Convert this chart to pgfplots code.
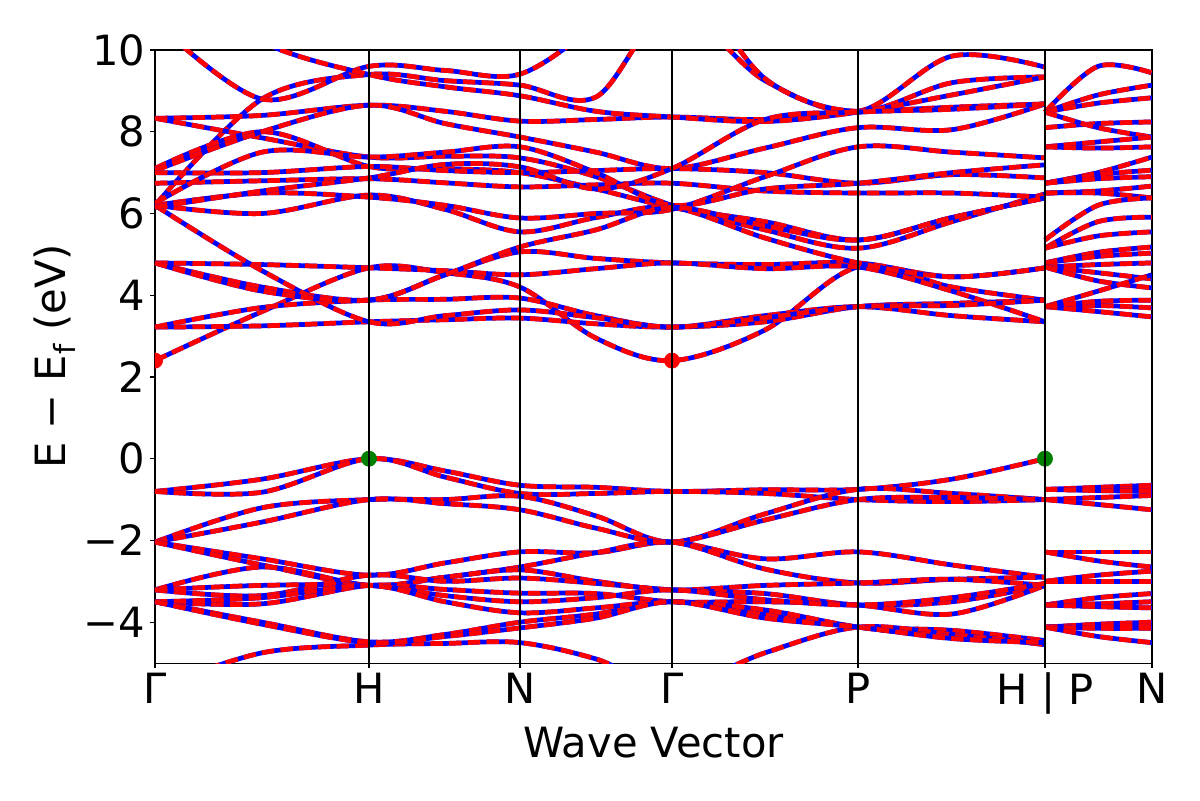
\documentclass[border=0pt]{standalone}
\usepackage{fontspec}
\setmainfont{DejaVu Sans}
\usepackage{pgfplots}
\usepackage{pgfplotstable}
\pgfplotsset{compat=1.18}
\definecolor{mplgreen}{RGB}{0,128,0}
\tikzset{band/.style={draw=blue, line width=3.4pt, smooth, tension=0.55, line join=round,
  postaction={draw=red, line width=3.4pt, dash pattern=on 9pt off 4.5pt}}}

\pgfplotstableread{
x v1 v2 v3 v4 v5 v6 v7 v8 v9 v10 v11 v12 v13 v14 c1 c2 c3 c4 c5 c6 c7 c8 c9 c10 c11 c12 c13 c14 c15 c16 c17 c18 c19 c20
0   -0.8 -0.8 -2.04 -2.04 -2.04 -2.04 -3.21 -3.21 -3.5 -3.5 -3.21 -5.6 -3.5 -3.5   2.4 3.22 3.22 4.79 4.79 6.2 6.2 10.7 8.33 8.33 7.1 7.05 6.74 7.0 6.2 6.2 6.25 12 6.15 4.79
107 -0.5 -0.82 -1.2 -1.55 -2.45 -2.6 -2.65 -3.35 -3.55 -4.0 -3.1 -4.75 -3.4 -4.05   3.6 3.25 3.7 4.2 4.75 4.6 8.8 8.8 8.4 7.85 8.0 8.0 6.8 7.0 6.0 6.5 7.5 10.2 6.55 4.1
214 0 0 -1.0 -1.0 -2.85 -3.1 -3.1 -2.85 -3.1 -4.48 -3.1 -4.56 -3.1 -4.5   4.67 3.35 3.88 3.88 4.67 3.35 9.4 9.6 8.65 7.38 7.15 8.65 6.85 7.15 6.45 6.4 7.38 9.4 6.87 3.88
290 -0.3 -0.45 -1.0 -1.1 -2.55 -2.9 -2.9 -3.0 -3.2 -4.3 -3.35 -4.52 -3.5 -4.35   4.55 3.4 3.9 4.5 4.6 3.5 9.25 9.5 8.5 7.4 7.1 8.2 6.75 7.05 6.1 6.2 7.5 9.1 7.2 4.5
365 -0.65 -0.85 -0.92 -1.25 -2.28 -2.65 -2.72 -2.92 -3.29 -4.0 -3.5 -4.5 -3.77 -4.14   4.2 3.44 3.93 5.06 4.5 3.64 9.14 9.41 8.26 7.36 7.0 7.87 6.65 7.0 5.55 5.89 7.63 8.88 7.14 5.18
441 -0.7 -0.85 -1.4 -1.7 -2.3 -2.3 -3.0 -3.05 -3.3 -3.8 -3.4 -4.9 -3.65 -3.9   2.95 3.3 3.5 4.9 4.65 3.45 8.85 10.6 8.3 6.9 6.6 7.5 6.7 7.05 5.9 6.0 7.0 8.5 6.6 5.6
517 -0.8 -0.8 -2.04 -2.04 -2.04 -2.04 -3.21 -3.21 -3.5 -3.5 -3.21 -5.6 -3.5 -3.5   2.4 3.22 3.22 4.79 4.79 3.22 11 12 8.36 6.2 6.15 7.1 6.74 7.1 6.15 6.1 6.2 8.36 7.1 6.15
610 -0.76 -0.85 -1.35 -1.5 -2.45 -2.7 -3.1 -3.3 -3.5 -3.8 -3.45 -4.75 -3.7 -3.9   3.15 3.35 3.5 4.75 4.65 3.45 9.25 9.3 8.3 5.6 5.8 7.6 6.55 7.0 5.4 6.9 6.6 8.25 8.3 5.7
703 -0.75 -1.0 -0.75 -1.0 -2.28 -3.04 -3.04 -3.58 -3.58 -4.12 -3.58 -4.12 -4.12 -4.12   4.69 3.72 3.72 4.79 4.69 3.72 8.5 8.5 8.48 5.15 5.35 8.1 6.5 6.74 4.79 7.63 6.74 8.48 8.48 5.35
797 -0.5 -1.05 -0.85 -0.95 -2.6 -2.95 -2.95 -3.5 -3.8 -4.2 -3.4 -4.3 -4.35 -4.4   4.2 3.8 3.5 4.45 4.1 3.75 9.85 9.2 8.6 5.8 5.9 8.05 6.5 6.95 4.45 7.5 7.0 8.9 8.55 5.9
890 0 -1.0 -1.0 -1.0 -2.9 -2.9 -3.1 -3.1 -3.1 -4.45 -3.05 -4.55 -4.48 -4.5   3.88 3.88 3.35 4.67 3.35 3.88 9.58 9.34 8.68 6.48 6.38 8.68 6.4 6.87 4.67 7.36 7.19 9.34 8.68 6.38
}\maintbl

\pgfplotstableread{
x p1 p2 p3 p4 p5 p6 p7 p8 p9 p10 p11 p12 p13 p14 p15 p16 p17 p18 p19 p20 p21 p22 p23 p24 q1 q2 q3 q4 q5 q6 q7 q8 q9 q10 q11 q12 q13 q14 q15 q16
890 8.48 8.48 8.48 8.1 8.48 7.63 7.63 6.74 6.74 6.74 6.5 6.5 5.35 5.15 5.15 4.79 4.79 4.69 4.69 4.69 3.72 3.72 3.72 3.72   -0.75 -0.75 -0.75 -1.0 -1.0 -2.28 -2.28 -3.0 -3.0 -3.58 -3.58 -3.58 -4.12 -4.12 -4.12 -4.12
943 9.6 8.9 8.7 8.2 8.1 7.75 7.6 7.0 6.95 6.85 6.55 6.5 6.2 5.8 5.45 5.05 4.95 4.75 4.55 4.35 4.1 3.75 3.6 3.85   -0.7 -0.75 -0.78 -0.95 -1.12 -2.28 -2.5 -2.85 -3.0 -3.4 -3.55 -3.62 -4.05 -4.1 -4.15 -4.35
997 9.44 9.14 8.83 8.24 7.87 7.87 7.63 7.38 7.06 6.9 6.67 6.38 6.38 5.91 5.55 5.18 5.03 4.79 4.4 4.18 4.5 3.69 3.47 3.88   -0.65 -0.72 -0.8 -0.9 -1.25 -2.28 -2.65 -2.75 -3.0 -3.3 -3.5 -3.65 -4.0 -4.1 -4.15 -4.5
}\lasttbl

\begin{document}
\begin{tikzpicture}
\begin{axis}[name=ax, scale only axis, width=717.8pt, height=441.4pt,
  xmin=0, xmax=997, ymin=-5, ymax=10,
  xtick={0,214,365,517,703,890,997},
  xticklabels={Γ,H,N,Γ,P,{H | P},N},
  ytick={-4,-2,0,2,4,6,8,10},
  yticklabels={−4,−2,0,2,4,6,8,10},
  tick align=outside, xtick pos=left, ytick pos=left,
  major tick length=3.5pt, tick style={black, line width=0.8pt},
  axis line style={line width=0.8pt},
  tick label style={font=\fontsize{30}{36}\selectfont},
  label style={font=\fontsize{30}{36}\selectfont},
  xlabel={Wave Vector}, ylabel={E − E\textsubscript{f} (eV)},
  xlabel style={at={(axis description cs:0.5,-0.1305)}, anchor=center},
  ylabel style={at={(axis description cs:-0.1003,0.5)}, anchor=center},
  clip marker paths=true,
]
\pgfplotsinvokeforeach{v1,v2,v3,v4,v5,v6,v7,v8,v9,v10,v11,v12,v13,v14,c1,c2,c3,c4,c5,c6,c7,c8,c9,c10,c11,c12,c13,c14,c15,c16,c17,c18,c19,c20}{
  \addplot[band] table[x=x, y=#1] {\maintbl};
}
\pgfplotsinvokeforeach{p1,p2,p3,p4,p5,p6,p7,p8,p9,p10,p11,p12,p13,p14,p15,p16,p17,p18,p19,p20,p21,p22,p23,p24,q1,q2,q3,q4,q5,q6,q7,q8,q9,q10,q11,q12,q13,q14,q15,q16}{
  \addplot[band] table[x=x, y=#1] {\lasttbl};
}
\addplot[only marks, mark=*, mark size=5.5pt, color=red] coordinates {(0,2.4) (517,2.4)};
\addplot[only marks, mark=*, mark size=5.5pt, color=mplgreen] coordinates {(214,0) (890,0)};
\pgfplotsinvokeforeach{214,365,517,703,890}{
  \addplot[black, line width=1.3pt] coordinates {(#1,-5) (#1,10)};
}
\end{axis}
\pgfresetboundingbox
\path[use as bounding box] ([shift={(-111.6pt,-98.6pt)}]ax.south west) rectangle ([shift={(34.6pt,36pt)}]ax.north east);
\end{tikzpicture}
\end{document}
